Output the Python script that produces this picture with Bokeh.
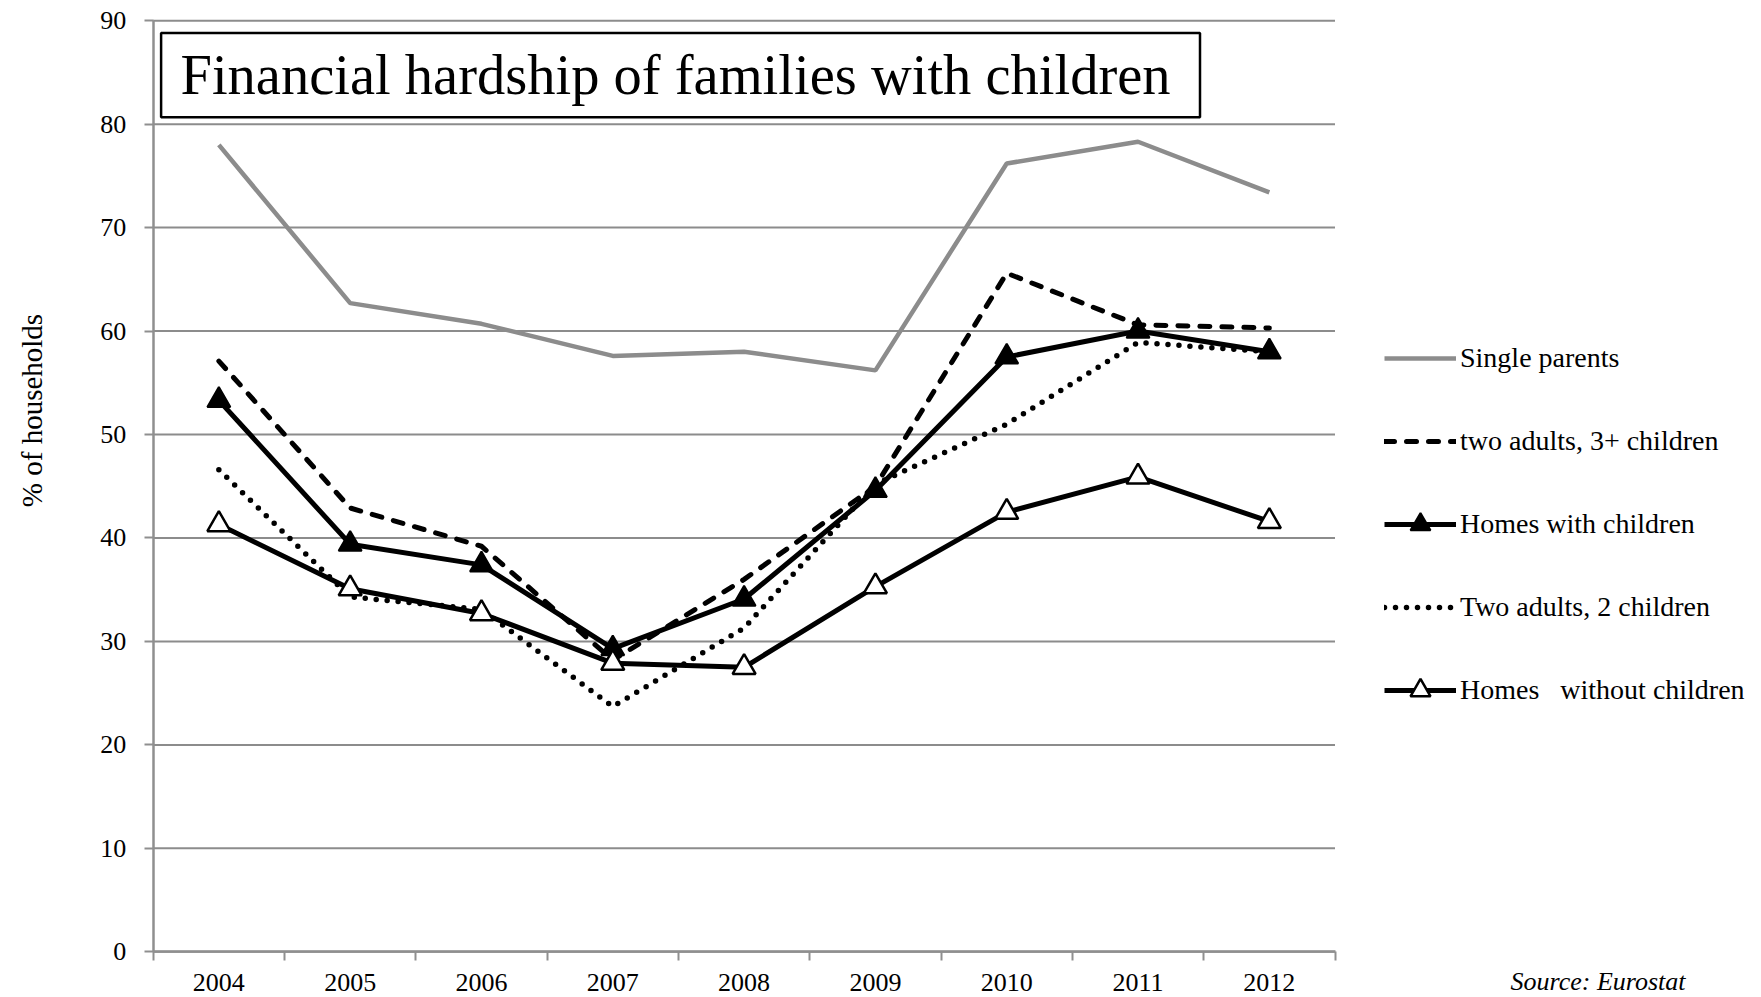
from bokeh.plotting import figure
from bokeh.models import (Range1d, FixedTicker, Legend, LegendItem, Label,
                          BoxAnnotation)
from bokeh.embed import file_html
from bokeh.resources import INLINE
import math

# Share of households in financial hardship (%), by household type
years = [2004, 2005, 2006, 2007, 2008, 2009, 2010, 2011, 2012]
single_parents = [78.0, 62.7, 60.7, 57.6, 58.0, 56.2, 76.2, 78.3, 73.4]
two_adults_3plus = [57.1, 42.9, 39.2, 28.2, 36.0, 45.0, 65.6, 60.6, 60.3]
homes_with_children = [53.3, 39.4, 37.4, 29.3, 34.1, 44.6, 57.5, 60.0, 58.0]
two_adults_2 = [46.6, 34.3, 33.1, 23.7, 31.3, 45.2, 51.0, 58.9, 58.0]
homes_without_children = [41.3, 35.1, 32.7, 27.9, 27.5, 35.3, 42.5, 45.9, 41.6]
y_ticks = [0, 10, 20, 30, 40, 50, 60, 70, 80, 90]

title_text = "Financial hardship of families with children"
y_label_text = "% of households"
source_text = "Source: Eurostat"

FONT = "Liberation Serif"
GRAY = "#8c8c8c"
AXIS_GRAY = "#8f8f8f"

# Page geometry (pixels) and the box the axes enclose
W, H = 1761, 997
BOX_L, BOX_R, BOX_T, BOX_B = 152.7, 1334.5, 20.2, 951.3

x_lo, x_hi = years[0] - 0.5, years[-1] + 0.5
y_lo, y_hi = y_ticks[0], y_ticks[-1]
px_x = (BOX_R - BOX_L) / (x_hi - x_lo)
px_y = (BOX_B - BOX_T) / (y_hi - y_lo)

# The plotting frame covers the whole page; the axes sit at fixed positions in it
p = figure(width=W, height=H, output_backend="svg", toolbar_location=None,
           x_range=Range1d(x_lo - BOX_L / px_x, x_hi + (W - BOX_R) / px_x),
           y_range=Range1d(y_lo - (H - BOX_B) / px_y, y_hi + BOX_T / px_y),
           min_border=0)
p.outline_line_color = None
p.background_fill_color = "white"
p.border_fill_color = "white"
p.xgrid.visible = False
p.ygrid.visible = False

# x axis: labels centred on each year, tick marks between the years
xa = p.xaxis[0]
xa.fixed_location = y_lo
xa.bounds = (x_lo, x_hi)
xa.ticker = FixedTicker(ticks=years,
                        minor_ticks=[y - 0.5 for y in years] + [x_hi])
xa.axis_line_color = AXIS_GRAY
xa.axis_line_width = 2.5
xa.major_tick_line_color = None
xa.major_tick_out = 0
xa.major_tick_in = 0
xa.minor_tick_line_color = AXIS_GRAY
xa.minor_tick_line_width = 2
xa.minor_tick_out = 9
xa.minor_tick_in = 0
xa.major_label_standoff = 13
xa.major_label_text_font = FONT
xa.major_label_text_font_size = "26px"
xa.major_label_text_color = "black"

# y axis
ya = p.yaxis[0]
ya.fixed_location = x_lo
ya.bounds = (y_lo, y_hi)
ya.ticker = FixedTicker(ticks=y_ticks)
ya.axis_line_color = AXIS_GRAY
ya.axis_line_width = 2.5
ya.major_tick_line_color = AXIS_GRAY
ya.major_tick_line_width = 2
ya.major_tick_out = 9
ya.major_tick_in = 0
ya.minor_tick_line_color = None
ya.major_label_standoff = 18
ya.major_label_text_font = FONT
ya.major_label_text_font_size = "26px"
ya.major_label_text_color = "black"

# horizontal grid lines across the plotting box only
p.segment(x0=[x_lo] * len(y_ticks), x1=[x_hi] * len(y_ticks),
          y0=y_ticks, y1=y_ticks, line_color=GRAY, line_width=2, level="underlay")

# series
r_single = p.line(years, single_parents, line_color=GRAY, line_width=4.5)
r_3plus = p.line(years, two_adults_3plus, line_color="black", line_width=5,
                 line_dash="10 12", line_cap="round")
r_2 = p.line(years, two_adults_2, line_color="black", line_width=5.5,
             line_dash="0 11", line_cap="round")
r_with_l = p.line(years, homes_with_children, line_color="black", line_width=5)
r_with_m = p.scatter(years, homes_with_children, marker="triangle", size=23,
                     fill_color="black", line_color="black", line_width=2)
r_without_l = p.line(years, homes_without_children, line_color="black", line_width=5)
r_without_m = p.scatter(years, homes_without_children, marker="triangle", size=23,
                        fill_color="white", line_color="black", line_width=2.5)

legend = Legend(items=[
    LegendItem(label="Single parents", renderers=[r_single]),
    LegendItem(label="two adults, 3+ children", renderers=[r_3plus]),
    LegendItem(label="Homes with children", renderers=[r_with_l, r_with_m]),
    LegendItem(label="Two adults, 2 children", renderers=[r_2]),
    LegendItem(label="Homes   without children", renderers=[r_without_l, r_without_m]),
], location=(1384, 282), orientation="vertical")
legend.padding = 0
legend.margin = 0
legend.border_line_color = None
legend.background_fill_alpha = 0
legend.glyph_width = 72
legend.glyph_height = 50
legend.label_height = 50
legend.spacing = 33
legend.label_standoff = 4
legend.label_text_font = FONT
legend.label_text_font_size = "28px"
legend.label_text_color = "black"
legend.label_text_baseline = "middle"
p.add_layout(legend, "center")

# boxed title inside the plotting box
p.add_layout(BoxAnnotation(left=160.6, right=1199.5, top=H - 32.6, bottom=H - 116.8,
                           left_units="screen", right_units="screen",
                           top_units="screen", bottom_units="screen",
                           fill_color="white", fill_alpha=1,
                           line_color="black", line_alpha=1, line_width=2.5))
p.add_layout(Label(x=180, y=H - 74.7, x_units="screen", y_units="screen",
                   text=title_text, text_font=FONT, text_font_size="56.5px",
                   text_color="black", text_baseline="middle", text_align="left"))

# y axis title
p.add_layout(Label(x=31, y=H - 410, x_units="screen", y_units="screen",
                   angle=math.pi / 2, text=y_label_text, text_font=FONT,
                   text_font_size="29px", text_color="black",
                   text_align="center", text_baseline="middle"))

# source note, bottom right
p.add_layout(Label(x=1510, y=H - 966, x_units="screen", y_units="screen",
                   text=source_text, text_font=FONT, text_font_size="26px",
                   text_font_style="italic", text_color="black",
                   text_align="left", text_baseline="top"))

open("out.html", "w").write(file_html(p, INLINE))
